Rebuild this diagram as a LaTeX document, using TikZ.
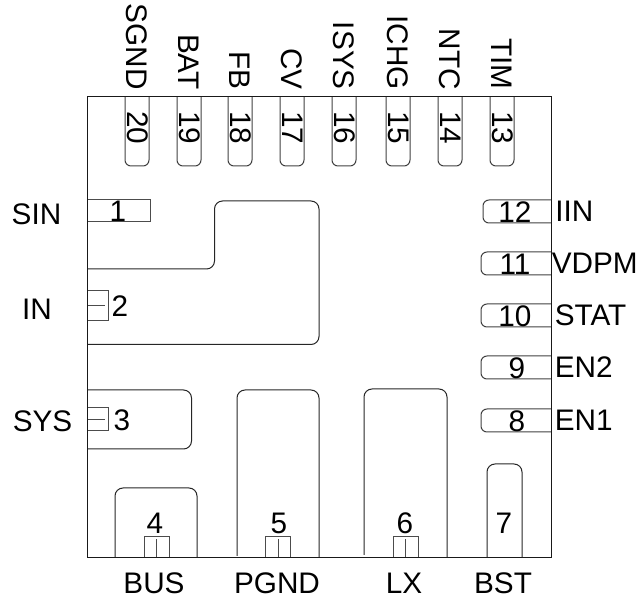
\documentclass[tikz,border=0pt]{standalone}
\usepackage{fontspec}
\setmainfont{Liberation Sans}
\tikzset{
    pinline/.style={draw=black!75, line width=0.75pt, rounded corners=4.5pt},
    padline/.style={draw=black!85, line width=0.75pt, rounded corners=6pt},
    padmark/.style={draw=black!70, line width=0.75pt},
    pintext/.style={inner sep=0pt, font=\fontsize{22.3pt}{24pt}\selectfont},
}

\begin{document}
\begin{tikzpicture}[x=.75pt, y=-.75pt]
    \useasboundingbox (0,0) rectangle (640,602);
    %%%%%%%%%%%%%%%%%Top row
    \foreach \xa/\num/\name in {125/20/SGND, 177/19/BAT, 228/18/FB, 280/17/CV, 332/16/ISYS, 386/15/ICHG, 438/14/NTC, 490/13/TIM} {
        \draw[pinline] (\xa,96.5) -- (\xa,166) -- (\xa+24,166) -- (\xa+24,96.5);
        \node[pintext, rotate=-90] (pin\num) at (\xa+12.5,128) {\num};
        \node[pintext, rotate=-90, anchor=east] (lbl\name) at (\xa+12,90) {\name};
    }
    %%%%%%%%%%%%%%%%%Right row
    \foreach \xa/\ya/\num/\name/\xn/\xl in {483/200/12/IIN/515/555, 481/252/11/VDPM/515/551.5, 481/304/10/STAT/515/554.5, 481/356/9/EN2/517/554.5, 481/409/8/EN1/517/554.5} {
        \draw[pinline] (551,\ya) -- (\xa,\ya) -- (\xa,\ya+23) -- (551,\ya+23);
        \node[pintext] (pin\num) at (\xn,\ya+12) {\num};
        \node[pintext, anchor=west] (lbl\name) at (\xl,\ya+11) {\name};
    }
    %%%%%%%%%%%%%%%%%Pads
    \draw[padline] (87.5,269) -- (214.5,269) -- (214.5,201) -- (319,201) -- (319,344.5) -- (87.5,344.5);
    \draw[padline] (87.5,390) -- (191.5,390) -- (191.5,449) -- (87.5,449);
    \draw[padline] (115,558) -- (115,488) -- (197,488) -- (197,558);
    \draw[padline] (237,556) -- (237,390) -- (319,390) -- (319,558);
    \draw[padline] (364,555) -- (364,389) -- (447,389) -- (447,558);
    \draw[padline] (487,558) -- (487,464) -- (522,464) -- (522,558);
    %%%%%%%%%%%%%%%%%Left marks
    \draw[padmark] (87.5,200) rectangle (150,222);
    \draw[padmark] (87.5,291) rectangle (108.5,321);
    \draw[padmark] (87.5,306) -- (105,306);
    \draw[padmark] (87.5,408) rectangle (108.5,431);
    \draw[padmark] (87.5,420) -- (105,420);
    %%%%%%%%%%%%%%%%%Bottom marks
    \foreach \xa in {144,265.5,393} {
        \draw[padmark] (\xa,558) -- (\xa,536.5) -- (\xa+25,536.5) -- (\xa+25,558);
        \draw[padmark] (\xa+12.5,539.5) -- (\xa+12.5,558);
    }
    %%%%%%%%%%%%%%%%%Package outline
    \draw[black!90, line width=0.75pt] (87.5,96.5) rectangle (551,558);
    %%%%%%%%%%%%%%%%%Other pins
    \node[pintext] (pin1) at (118,211.5) {1};
    \node[pintext] (pin2) at (120,306) {2};
    \node[pintext] (pin3) at (122,420) {3};
    \node[pintext] (pin4) at (155,523) {4};
    \node[pintext] (pin5) at (279,523) {5};
    \node[pintext] (pin6) at (405,523) {6};
    \node[pintext] (pin7) at (504,523) {7};
    \node[pintext] (lblSIN) at (36.5,214) {SIN};
    \node[pintext] (lblIN) at (37,309) {IN};
    \node[pintext] (lblSYS) at (42.5,421) {SYS};
    \node[pintext] (lblBUS) at (154,583) {BUS};
    \node[pintext] (lblPGND) at (277,583) {PGND};
    \node[pintext] (lblLX) at (404,583) {LX};
    \node[pintext] (lblBST) at (503,583) {BST};
\end{tikzpicture}
\end{document}
